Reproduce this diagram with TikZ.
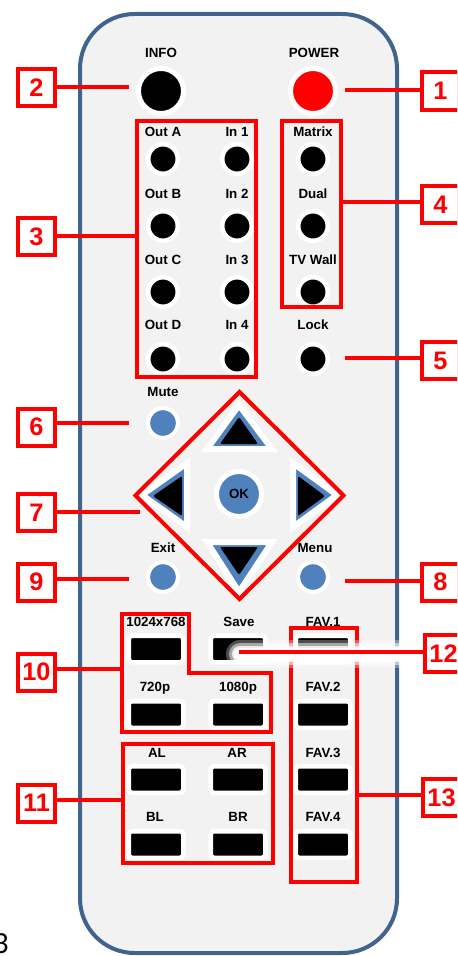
\documentclass[tikz,border=0pt]{standalone}
\usepackage{fontspec}
\setmainfont{Liberation Sans}
\newfontfamily\carlfont{Carlito}
\definecolor{rblue}{HTML}{4F81BD}
\definecolor{rborder}{HTML}{41648F}
\definecolor{rbody}{HTML}{F2F2F2}
\begin{document}
\begin{tikzpicture}[x=0.75pt,y=-0.75pt,
 lbl/.style={font=\bfseries\fontsize{10}{12}\selectfont, inner sep=0, anchor=base},
 numbox/.style={draw=red, line width=3pt, fill=white, text=red, inner sep=0,
   minimum width=27.75pt, minimum height=27.75pt, font=\bfseries\fontsize{19}{20}\selectfont},
 redline/.style={draw=red, line width=3pt},
 grp/.style={draw=red, line width=3pt, inner sep=0},
 bbtn/.style={circle, fill=black, draw=white, line width=3.4pt, minimum size=22.15pt, inner sep=0},
 bigbtn/.style={circle, draw=white, line width=3.75pt, minimum size=33.75pt, inner sep=0},
 bluebtn/.style={circle, fill=rblue, draw=white, line width=3pt, minimum size=22.3pt, inner sep=0},
 rbtn/.style={rectangle, fill=black, draw=white, line width=3.4pt, minimum width=40.9pt,
   minimum height=19.9pt, rounded corners=2.5pt, inner sep=0},
 bluetri/.style={fill=rblue, draw=white, line width=4.5pt, miter limit=10},
 blacktri/.style={fill=black, rounded corners=1.5pt},
]
\useasboundingbox (0,0) rectangle (457,956);
\clip (0,0) rectangle (457,956);

% remote body
\draw[rborder, fill=rbody, line width=3pt, rounded corners=41pt] (80,14) rectangle (397,953);

% labels
\node[lbl] (tinfo) at (161,57.8) {INFO};
\node[lbl] (tpower) at (314,57.8) {POWER};
\node[lbl] (touta) at (163,136.8) {Out A};
\node[lbl] (tin1) at (237,136.8) {In 1};
\node[lbl] (tmatrix) at (313,136.8) {Matrix};
\node[lbl] (toutb) at (163,198.8) {Out B};
\node[lbl] (tin2) at (237,198.8) {In 2};
\node[lbl] (tdual) at (313,198.8) {Dual};
\node[lbl] (toutc) at (163,264.8) {Out C};
\node[lbl] (tin3) at (237,264.8) {In 3};
\node[lbl] (ttvwall) at (313,264.8) {TV Wall};
\node[lbl] (toutd) at (163,329.8) {Out D};
\node[lbl] (tin4) at (237,329.8) {In 4};
\node[lbl] (tlock) at (313,329.8) {Lock};
\node[lbl] (tmute) at (163,396.8) {Mute};
\node[lbl] (texit) at (163,552.8) {Exit};
\node[lbl] (tmenu) at (315,552.8) {Menu};
\node[lbl] (tres) at (156,626.8) {1024x768};
\node[lbl] (tsave) at (239,626.8) {Save};
\node[lbl] (tfav1) at (323,626.8) {FAV.1};
\node[lbl] (t720) at (155,691.8) {720p};
\node[lbl] (t1080) at (238,691.8) {1080p};
\node[lbl] (tfav2) at (323,691.8) {FAV.2};
\node[lbl] (tal) at (157,757.8) {AL};
\node[lbl] (tar) at (237,757.8) {AR};
\node[lbl] (tfav3) at (323,757.8) {FAV.3};
\node[lbl] (tbl) at (155,821.8) {BL};
\node[lbl] (tbr) at (238,821.8) {BR};
\node[lbl] (tfav4) at (323,821.8) {FAV.4};

% round buttons
\node[bigbtn, fill=black] (binfo) at (161,91) {};
\node[bigbtn, fill=red] (bpower) at (313,91) {};
\node[bbtn] (bouta) at (163,159) {};
\node[bbtn] (bin1) at (237,159) {};
\node[bbtn] (bmatrix) at (313,159) {};
\node[bbtn] (boutb) at (163,226) {};
\node[bbtn] (bin2) at (237,226) {};
\node[bbtn] (bdual) at (313,226) {};
\node[bbtn] (boutc) at (163,292) {};
\node[bbtn] (bin3) at (237,292) {};
\node[bbtn] (btvwall) at (313,292) {};
\node[bbtn] (boutd) at (163,359) {};
\node[bbtn] (bin4) at (237,359) {};
\node[bbtn] (block) at (313,359) {};
\node[bluebtn] (bmute) at (163,423) {};
\node[bluebtn] (bexit) at (163,577) {};
\node[bluebtn] (bmenu) at (313,577) {};

% arrow pad
\path[bluetri] (239,405) -- (272,449) -- (207,449) -- cycle;
\path[blacktri] (239,417) -- (258,444) -- (220,444) -- cycle;
\path[bluetri] (207,542) -- (272,542) -- (239,592) -- cycle;
\path[blacktri] (220,547) -- (258,547) -- (239,575) -- cycle;
\path[bluetri] (187,463) -- (187,527) -- (142,495) -- cycle;
\path[blacktri] (182,476) -- (182,516) -- (153,496) -- cycle;
\path[bluetri] (293,463) -- (293,527) -- (337,495) -- cycle;
\path[blacktri] (298,476) -- (298,516) -- (325,496) -- cycle;
\node[bigbtn, fill=rblue, font=\bfseries\fontsize{10}{12}\selectfont] (bok) at (239,494) {OK};

% rectangular buttons
\node[rbtn] (bres) at (156,649) {};
\node[rbtn] (bsave) at (238,649) {};
\node[rbtn] (bfav1) at (323,649) {};
\node[rbtn] (b720) at (156,714.5) {};
\node[rbtn] (b1080) at (238,714.5) {};
\node[rbtn] (bfav2) at (323,714.5) {};
\node[rbtn] (bal) at (156,779.5) {};
\node[rbtn] (bar) at (238,779.5) {};
\node[rbtn] (bfav3) at (323,779.5) {};
\node[rbtn] (bbl) at (156,844.5) {};
\node[rbtn] (bbr) at (238,844.5) {};
\node[rbtn] (bfav4) at (323,844.5) {};

% red groups
\node[grp, minimum width=89.25pt, minimum height=192pt] (g3) at (196.5,249) {};
\node[grp, minimum width=44.25pt, minimum height=139.5pt] (g4) at (311.5,214) {};
\node[grp, minimum width=112.5pt, minimum height=89.25pt] (g11) at (198,803.5) {};
\node[grp, minimum width=49.5pt, minimum height=190.5pt] (g13) at (324,755) {};
\draw[grp] (122,614) -- (189,614) -- (189,673) -- (271,673) -- (271,732) -- (122,732) -- cycle;
\coordinate (g10w) at (122,669);
\draw[grp] (239.5,392) -- (343.5,495.5) -- (239.5,599) -- (135.5,495.5) -- cycle;
\coordinate (g7w) at (140,512);

% glow of line 12
\foreach \w/\o in {21pt/0.3, 16.5pt/0.5, 12pt/0.8, 9pt/1}
  \draw[white, opacity=\o, line width=\w, line cap=round] (240,654) -- (423,654);

% number boxes
\node[numbox] (n1) at (440.5,91) {1};
\node[numbox] (n2) at (36.5,87.5) {2};
\node[numbox] (n3) at (36.5,236.5) {3};
\node[numbox] (n4) at (440.5,204.5) {4};
\node[numbox] (n5) at (440.5,360.5) {5};
\node[numbox] (n6) at (36.5,427) {6};
\node[numbox] (n7) at (36.5,512.5) {7};
\node[numbox] (n8) at (440.5,582) {8};
\node[numbox] (n9) at (36.5,582) {9};
\node[numbox] (n10) at (36.5,672) {10};
\node[numbox] (n11) at (36.5,803) {11};
\node[numbox] (n12) at (443.5,653.5) {12};
\node[numbox] (n13) at (441.5,797.5) {13};

% connectors
\coordinate (e1) at (345,90);
\coordinate (e2) at (129,87);
\coordinate (e5) at (345,358);
\coordinate (e6) at (129,423);
\coordinate (e8) at (345,581);
\coordinate (e9) at (129,579);
\coordinate (e12) at (239,652);
\draw[redline] (e1) -- (e1 -| n1.west);
\draw[redline] (e2 -| n2.east) -- (e2);
\draw[redline] (n3.east |- 0,236) -- (g3.west |- 0,236);
\draw[redline] (g4.east |- 0,202) -- (n4.west |- 0,202);
\draw[redline] (e5) -- (e5 -| n5.west);
\draw[redline] (e6 -| n6.east) -- (e6);
\draw[redline] (g7w -| n7.east) -- (g7w);
\draw[redline] (e8) -- (e8 -| n8.west);
\draw[redline] (e9 -| n9.east) -- (e9);
\draw[redline] (g10w -| n10.east) -- (g10w);
\draw[redline] (n11.east |- 0,800) -- (g11.west |- 0,800);
\draw[redline] (e12) -- (e12 -| n12.west);
\draw[redline] (g13.east |- 0,795) -- (n13.west |- 0,795);

% stray digit at bottom left
\node[anchor=base east, inner sep=0, font=\carlfont\fontsize{23}{24}\selectfont] (stray) at (9,953) {3};
\end{tikzpicture}
\end{document}
